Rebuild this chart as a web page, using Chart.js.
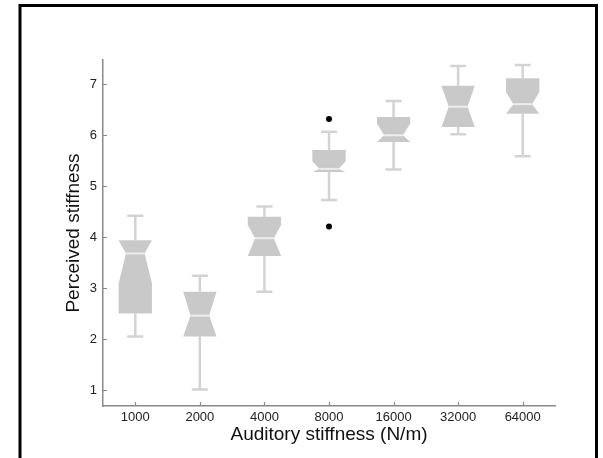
<!DOCTYPE html>
<html><head><meta charset="utf-8">
<script src="https://cdn.jsdelivr.net/npm/chart.js@4"></script>
<style>html,body{margin:0;padding:0;background:#fff}canvas{display:block}</style>
</head><body>
<canvas id="c" width="603" height="458"></canvas>
<script>
const categories  = ['1000','2000','4000','8000','16000','32000','64000'];
const whiskerLow  = [2.05, 1.01, 2.93, 4.73, 5.33, 6.02, 5.59];
const q1          = [2.50, 2.05, 3.63, 5.28, 5.87, 6.16, 6.42];
const notchLow    = [3.09, 2.05, 3.63, 5.28, 5.87, 6.16, 6.42];
const median      = [3.68, 2.46, 3.98, 5.34, 6.00, 6.56, 6.61];
const notchHigh   = [3.94, 2.93, 4.24, 5.49, 6.23, 6.97, 6.85];
const q3          = [3.94, 2.93, 4.40, 5.71, 6.36, 6.97, 7.12];
const whiskerHigh = [4.42, 3.24, 4.60, 6.07, 6.67, 7.36, 7.38];
const outlierCat  = ['8000', '8000'];
const outlierVal  = [6.32, 4.21];
const yTicks      = [1, 2, 3, 4, 5, 6, 7];

const FONT = "'Liberation Sans', Arial, Helvetica, sans-serif";
const AXIS_COLOR = '#8a8a8a';

const boxPlugin = {
  id: 'notchedBox',
  beforeDraw(chart) {
    const ctx = chart.ctx;
    ctx.save();
    ctx.fillStyle = '#fff';
    ctx.fillRect(0, 0, chart.width, chart.height);
    ctx.strokeStyle = '#000';
    ctx.lineWidth = 3;
    ctx.strokeRect(20, 5.5, 576.5, 480);
    ctx.restore();
  },
  beforeDatasetsDraw(chart) {
    const x = chart.scales.x, y = chart.scales.y, ctx = chart.ctx;
    const cw = (x.right - x.left) / categories.length;
    const hw = cw * 0.258, ind = cw * 0.113, cap = cw * 0.124;
    const Y = v => y.getPixelForValue(v);
    ctx.save();
    categories.forEach((c, i) => {
      const px = x.getPixelForValue(i);
      ctx.strokeStyle = '#d3d3d3';
      ctx.lineWidth = 2.5;
      ctx.beginPath();
      ctx.moveTo(px, Y(whiskerHigh[i])); ctx.lineTo(px, Y(q3[i]));
      ctx.moveTo(px, Y(q1[i])); ctx.lineTo(px, Y(whiskerLow[i]));
      ctx.moveTo(px - cap, Y(whiskerHigh[i])); ctx.lineTo(px + cap, Y(whiskerHigh[i]));
      ctx.moveTo(px - cap, Y(whiskerLow[i])); ctx.lineTo(px + cap, Y(whiskerLow[i]));
      ctx.stroke();
      ctx.fillStyle = '#c9c9c9';
      ctx.beginPath();
      ctx.moveTo(px - hw, Y(q3[i]));
      ctx.lineTo(px - hw, Y(notchHigh[i]));
      ctx.lineTo(px - hw + ind, Y(median[i]));
      ctx.lineTo(px - hw, Y(notchLow[i]));
      ctx.lineTo(px - hw, Y(q1[i]));
      ctx.lineTo(px + hw, Y(q1[i]));
      ctx.lineTo(px + hw, Y(notchLow[i]));
      ctx.lineTo(px + hw - ind, Y(median[i]));
      ctx.lineTo(px + hw, Y(notchHigh[i]));
      ctx.lineTo(px + hw, Y(q3[i]));
      ctx.closePath();
      ctx.fill();
      ctx.strokeStyle = '#ededed';
      ctx.lineWidth = 2;
      ctx.beginPath();
      ctx.moveTo(px - hw + ind, Y(median[i]));
      ctx.lineTo(px + hw - ind, Y(median[i]));
      ctx.stroke();
    });
    ctx.restore();
  },
  afterDraw(chart) {
    const x = chart.scales.x, y = chart.scales.y, ctx = chart.ctx;
    ctx.save();
    ctx.strokeStyle = AXIS_COLOR;
    ctx.lineWidth = 1.2;
    ctx.beginPath();
    y.ticks.forEach(t => {
      const py = Math.round(y.getPixelForValue(t.value)) + 0.5;
      ctx.moveTo(y.right, py); ctx.lineTo(y.right + 4, py);
    });
    categories.forEach((c, i) => {
      const px = Math.round(x.getPixelForValue(i)) + 0.5;
      ctx.moveTo(px, x.top); ctx.lineTo(px, x.top - 4);
    });
    ctx.stroke();
    ctx.restore();
  }
};

new Chart(document.getElementById('c'), {
  type: 'line',
  data: {
    labels: categories,
    datasets: [{
      label: 'Outliers',
      data: outlierCat.map((c, i) => ({ x: c, y: outlierVal[i] })),
      showLine: false,
      pointRadius: 3,
      pointHoverRadius: 3,
      pointBackgroundColor: '#000',
      pointBorderColor: '#000',
      pointBorderWidth: 0
    }]
  },
  options: {
    responsive: false,
    animation: false,
    events: [],
    layout: { padding: { left: 0, right: 48, top: 60, bottom: 0 } },
    plugins: { legend: { display: false }, tooltip: { enabled: false } },
    scales: {
      x: {
        type: 'category',
        offset: true,
        grid: { display: false, drawTicks: false },
        border: { display: true, color: AXIS_COLOR, width: 1.5 },
        ticks: { color: '#222', padding: 4, font: { family: FONT, size: 13 }, maxRotation: 0, autoSkip: false },
        title: { display: true, text: 'Auditory stiffness (N/m)', color: '#111',
                 font: { family: FONT, size: 19 }, padding: { top: 0, bottom: 12 } },
        afterFit(s) { s.height = 52; }
      },
      y: {
        type: 'linear',
        min: 0.686,
        max: 7.477,
        grid: { display: false, drawTicks: false },
        border: { display: true, color: AXIS_COLOR, width: 1.5 },
        afterBuildTicks(s) { s.ticks = yTicks.map(v => ({ value: v })); },
        ticks: { color: '#222', padding: 6, font: { family: FONT, size: 13 } },
        title: { display: true, text: 'Perceived stiffness', color: '#111',
                 font: { family: FONT, size: 19 }, padding: { top: 62, bottom: 0 } },
        afterFit(s) { s.width = 103; }
      }
    }
  },
  plugins: [boxPlugin]
});
</script>
</body></html>
